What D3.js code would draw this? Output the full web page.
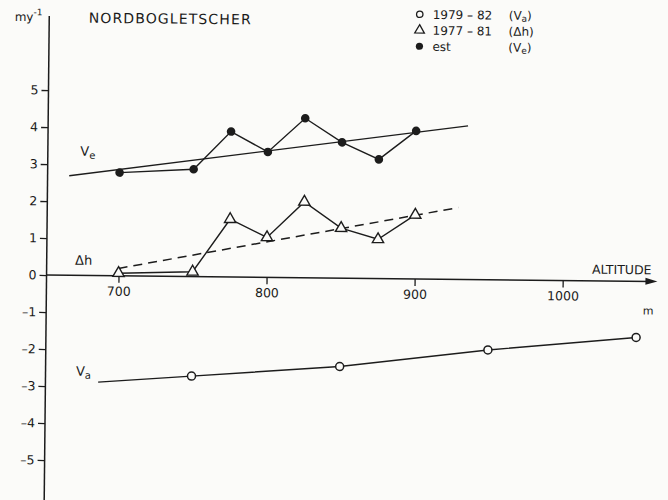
<!DOCTYPE html>
<html>
<head>
  <meta charset="utf-8">
  <title>Nordbogletscher</title>
  <script src="https://cdn.jsdelivr.net/npm/d3@7"></script>
  <style>
    body { margin: 0; background: #fbfbf9; }
    text { font-family: "DejaVu Sans", sans-serif; fill: #1a1a1a; }
  </style>
</head>
<body>
<script>
  var width = 668,
      height = 500;

  // altitudes (m) and values (m/yr)
  var altVe = [700, 750, 775, 800, 825, 850, 875, 900];
  var ve = [2.79, 2.90, 3.93, 3.39, 4.31, 3.67, 3.22, 4.00];   // est (Ve)
  var dh = [0.07, 0.13, 1.56, 1.08, 2.05, 1.35, 1.06, 1.73];   // 1977-81 (dh)
  var altVa = [750, 850, 950, 1050];
  var va = [-2.69, -2.39, -1.90, -1.52];                       // 1979-82 (Va)

  // fitted lines
  var veTrend = [[666, 2.69], [935, 4.15]];
  var dhTrend = [[700, 0.20], [929, 1.94]];
  var vaStart = [687, -2.88];

  var xTicks = [700, 800, 900, 1000];
  var yTicks = [-5, -4, -3, -2, -1, 0, 1, 2, 3, 4, 5];

  var legendItems = [
    {sym: "circle", label: "1979 \u2013 82", v: "V", sub: "a"},
    {sym: "triangle", label: "1977 \u2013 81", v: "\u0394h", sub: ""},
    {sym: "dot", label: "est", v: "V", sub: "e"}
  ];

  var svg = d3.select("body").append("svg")
      .attr("width", width)
      .attr("height", height);

  // the scan is slightly tilted
  var g = svg.append("g").attr("transform", "rotate(0.6,300,277)");

  var x = d3.scaleLinear().domain([700, 1000]).range([118.5, 562.7]);
  var y = d3.scaleLinear().domain([-5, 5]).range([462.7, 92.7]);

  var axisAlt = 651.4;
  var ink = "#1c1c1c";

  // y axis
  var yAxis = g.append("g")
      .attr("transform", "translate(" + x(axisAlt) + ",0)")
      .call(d3.axisLeft(y).tickValues(yTicks).tickSize(7).tickPadding(3)
            .tickFormat(function(d) { return d < 0 ? "\u2013" + Math.abs(d) : d; }));
  yAxis.select(".domain").remove();
  yAxis.selectAll("line").attr("stroke", ink).attr("stroke-width", 1.3);
  yAxis.selectAll("text").attr("font-size", 12.5).attr("font-family", "DejaVu Sans").attr("fill", ink);

  g.append("line")
      .attr("x1", x(axisAlt)).attr("x2", x(axisAlt))
      .attr("y1", y(7.0)).attr("y2", 505)
      .attr("stroke", ink).attr("stroke-width", 1.5);

  // x axis
  var xAxis = g.append("g")
      .attr("transform", "translate(0," + y(0) + ")")
      .call(d3.axisBottom(x).tickValues(xTicks).tickSize(7).tickPadding(4)
            .tickFormat(d3.format("d")));
  xAxis.select(".domain").remove();
  xAxis.selectAll("line").attr("stroke", ink).attr("stroke-width", 1.3);
  xAxis.selectAll("text").attr("font-size", 12.5).attr("font-family", "DejaVu Sans").attr("fill", ink);

  var arrowEnd = x(1064);
  g.append("line")
      .attr("x1", x(axisAlt)).attr("x2", arrowEnd - 6)
      .attr("y1", y(0)).attr("y2", y(0))
      .attr("stroke", ink).attr("stroke-width", 1.5);
  g.append("path")
      .attr("d", "M" + arrowEnd + "," + y(0) + "l-12,-3.5l0,7z")
      .attr("fill", ink);

  g.append("text").attr("x", arrowEnd - 6).attr("y", y(0) - 7)
      .attr("text-anchor", "end").attr("font-size", 12.5)
      .text("ALTITUDE");
  g.append("text").attr("x", x(1058)).attr("y", y(-0.9))
      .attr("text-anchor", "middle").attr("font-size", 11)
      .text("m");

  // title and unit
  g.append("text").attr("x", 86).attr("y", 25).attr("font-size", 14)
      .attr("textLength", 162).attr("lengthAdjust", "spacing")
      .text("NORDBOGLETSCHER");
  var unit = g.append("text").attr("x", 12).attr("y", 24).attr("font-size", 12);
  unit.append("tspan").text("my");
  unit.append("tspan").attr("dy", -6).attr("font-size", 9).text("-1");

  var line = d3.line().x(function(d) { return x(d[0]); }).y(function(d) { return y(d[1]); });

  // trend lines
  g.append("path").attr("d", line(veTrend))
      .attr("fill", "none").attr("stroke", ink).attr("stroke-width", 1.4);
  g.append("path").attr("d", line(dhTrend))
      .attr("fill", "none").attr("stroke", ink).attr("stroke-width", 1.5)
      .attr("stroke-dasharray", "9,6");

  var veData = altVe.map(function(a, i) { return [a, ve[i]]; });
  var dhData = altVe.map(function(a, i) { return [a, dh[i]]; });
  var vaData = altVa.map(function(a, i) { return [a, va[i]]; });

  g.append("path").attr("d", line(veData))
      .attr("fill", "none").attr("stroke", ink).attr("stroke-width", 1.4);
  g.append("path").attr("d", line(dhData))
      .attr("fill", "none").attr("stroke", ink).attr("stroke-width", 1.4);
  g.append("path").attr("d", line([vaStart].concat(vaData)))
      .attr("fill", "none").attr("stroke", ink).attr("stroke-width", 1.4);

  var tri = d3.symbol().type(d3.symbolTriangle).size(55);

  g.selectAll(".ve").data(veData).enter().append("circle")
      .attr("cx", function(d) { return x(d[0]); })
      .attr("cy", function(d) { return y(d[1]); })
      .attr("r", 4.3).attr("fill", ink);

  g.selectAll(".dh").data(dhData).enter().append("path")
      .attr("d", tri)
      .attr("transform", function(d) { return "translate(" + x(d[0]) + "," + y(d[1]) + ")"; })
      .attr("fill", "#fbfbf9").attr("stroke", ink).attr("stroke-width", 1.4);

  g.selectAll(".va").data(vaData).enter().append("circle")
      .attr("cx", function(d) { return x(d[0]); })
      .attr("cy", function(d) { return y(d[1]); })
      .attr("r", 4).attr("fill", "#fbfbf9").attr("stroke", ink).attr("stroke-width", 1.5);

  // series labels
  function seriesLabel(px, py, main, sub) {
    var t = g.append("text").attr("x", px).attr("y", py).attr("font-size", 13);
    t.append("tspan").text(main);
    if (sub) t.append("tspan").attr("dy", 3).attr("font-size", 10).text(sub);
  }
  seriesLabel(79, 158, "V", "e");
  seriesLabel(75, 267, "\u0394h", "");
  seriesLabel(77, 378, "V", "a");

  // legend
  var leg = g.append("g").attr("transform", "translate(417,13)");
  var rows = leg.selectAll("g").data(legendItems).enter().append("g")
      .attr("transform", function(d, i) { return "translate(0," + (i * 16) + ")"; });
  rows.each(function(d) {
    var r = d3.select(this);
    if (d.sym === "circle") {
      r.append("circle").attr("r", 3.2).attr("fill", "none").attr("stroke", ink).attr("stroke-width", 1.3);
    } else if (d.sym === "triangle") {
      r.append("path").attr("d", d3.symbol().type(d3.symbolTriangle).size(40))
          .attr("fill", "none").attr("stroke", ink).attr("stroke-width", 1.3);
    } else {
      r.append("circle").attr("r", 3.6).attr("fill", ink);
    }
    r.append("text").attr("x", 13).attr("y", 4.5).attr("font-size", 12).text(d.label);
    var t = r.append("text").attr("x", 89).attr("y", 4.5).attr("font-size", 12);
    t.append("tspan").text("(" + d.v);
    if (d.sub) t.append("tspan").attr("dy", 2).attr("font-size", 9).text(d.sub);
    t.append("tspan").attr("dy", d.sub ? -2 : 0).text(")");
  });
</script>
</body>
</html>
